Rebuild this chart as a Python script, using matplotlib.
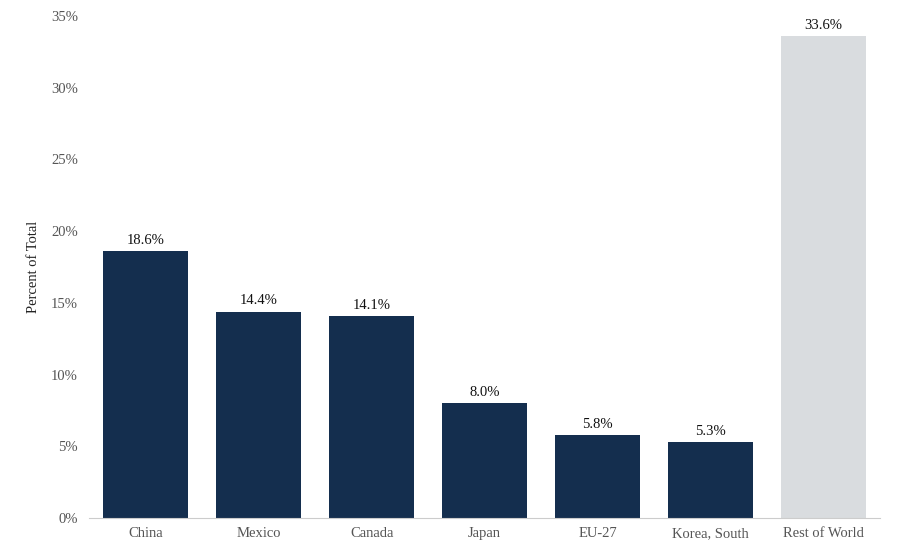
import matplotlib
matplotlib.use('Agg')
import matplotlib.pyplot as plt
from matplotlib.ticker import FuncFormatter

# quote dati
paesi = ['China', 'Mexico', 'Canada', 'Japan', 'EU-27', 'Korea, South', 'Rest of World']
quote = [18.6, 14.4, 14.1, 8.0, 5.8, 5.3, 33.6]
colori = ['#142e4e'] * 6 + ['#d9dcdf']

plt.rcParams['font.family'] = ['Liberation Serif', 'DejaVu Serif']

fig = plt.figure(figsize=(9, 5.5), dpi=100)
ax = fig.add_axes([0.099, 0.058, 0.879, 0.913])

x = list(range(len(paesi)))
barre = ax.bar(x, quote, width=0.75, color=colori)

# etichette sopra le barre
for b, v in zip(barre, quote):
    ax.text(b.get_x() + b.get_width() / 2, v + 0.3, f'{v:.1f}%',
            ha='center', va='bottom', fontsize=10.5, color='#111111')

ax.set_xlim(-0.5, len(paesi) - 0.5)
ax.set_ylim(0, 35)
ax.set_yticks(range(0, 36, 5))
ax.yaxis.set_major_formatter(FuncFormatter(lambda v, p: f'{v:.0f}%'))
ax.set_xticks(x)
ax.set_xticklabels(paesi)
ax.tick_params(axis='both', length=0, labelsize=10.5, colors='#555555')
ax.tick_params(axis='y', pad=8)
ax.tick_params(axis='x', pad=13.5)
# allineo le etichette sulla linea di base
for lbl in ax.get_xticklabels():
    lbl.set_va('baseline')

for s in ['top', 'right', 'left']:
    ax.spines[s].set_visible(False)
ax.spines['bottom'].set_color('#cccccc')

ax.set_ylabel('Percent of Total', fontsize=10.5, color='#222222', labelpad=8)

plt.savefig('out.png', dpi=100)
plt.close()
